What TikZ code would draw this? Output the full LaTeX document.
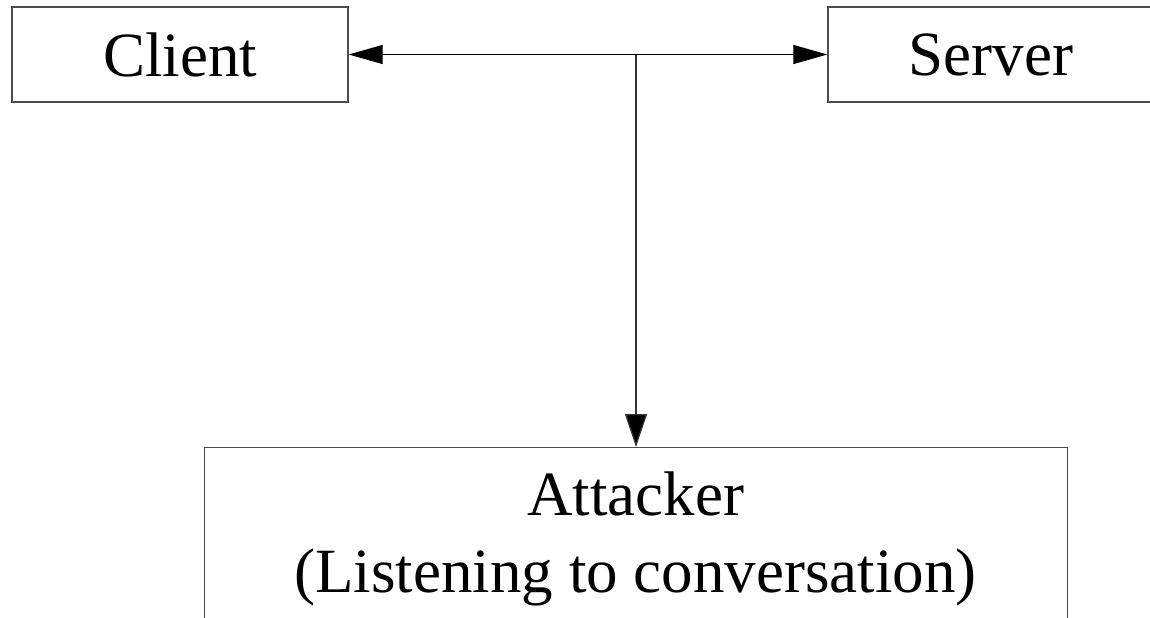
\documentclass[tikz,border=0pt]{standalone}
\usepackage{fontspec}
\setmainfont{Liberation Serif}
\usetikzlibrary{arrows.meta}
\begin{document}
\begin{tikzpicture}[x=0.5pt, y=-0.5pt,
  box/.style={draw=black!70, line width=0.7pt, rectangle, inner sep=0pt,
              font=\fontsize{31.5pt}{38.5pt}\selectfont},
  txt/.style={inner sep=0pt, align=center, font=\fontsize{31.5pt}{38.5pt}\selectfont},
  link/.style={line width=0.65pt, draw=black!80,
               -{Triangle[length=16.5pt, width=11pt, fill=black]}},
  biline/.style={line width=0.65pt, draw=black,
               {Triangle[length=17pt, width=9.5pt]}-{Triangle[length=17pt, width=9.5pt]}}]
  \useasboundingbox (0,0) rectangle (1150,617);
  \clip (0,0) rectangle (1150,617);

  % the two endpoints of the conversation
  \node[box, minimum width=168pt, minimum height=47.5pt] (client) at (180,54.5) {Client};
  \node[box, minimum width=163pt, minimum height=47.5pt] (server) at (991,54.5) {Server};

  % eavesdropper box (runs off the lower edge)
  \node[box, anchor=north west, minimum width=431.5pt, minimum height=120pt] (att) at (204,447) {};
  \node[txt, anchor=base] (atttext) at (635.5,592) {Attacker\\(Listening to conversation)};

  % tap point on the client-server line
  \coordinate (tap) at (636,54.5);

  \draw[biline] (client.east) -- (server.west);
  \draw[link] (tap) -- (tap |- att.north);
\end{tikzpicture}
\end{document}
